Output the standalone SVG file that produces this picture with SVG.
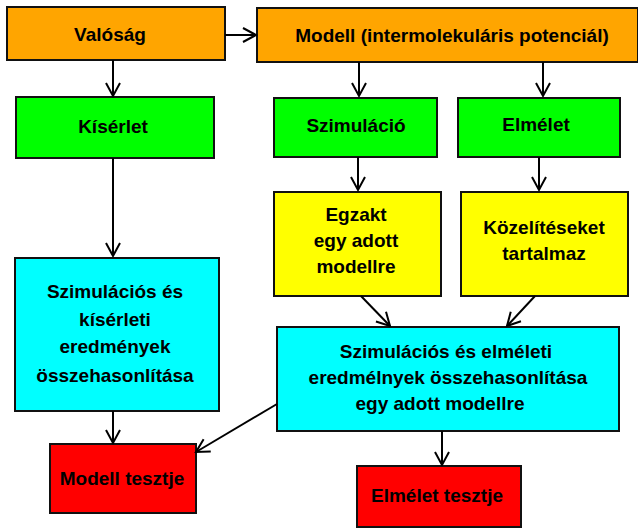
<svg xmlns="http://www.w3.org/2000/svg" width="638" height="529" viewBox="0 0 638 529">
<defs>
<marker id="arr" markerUnits="userSpaceOnUse" markerWidth="20" markerHeight="20" viewBox="-16 -10 20 20" refX="0" refY="0" orient="auto">
<path d="M-13,-7 L0,0 L-13,7" fill="none" stroke="#000" stroke-width="2"/>
</marker>
</defs>
<style>
rect{stroke:#111;stroke-width:2}
.o{fill:#FFA500}.g{fill:#00FF00}.y{fill:#FFFF00}.c{fill:#00FFFF}.r{fill:#FF0000}
text{font-family:"Liberation Sans",Arial,sans-serif;font-weight:bold;font-size:19px;fill:#000;text-anchor:middle}
.e line{stroke:#000;stroke-width:2;marker-end:url(#arr)}
</style>
<g id="valosag"><rect class="o" x="7" y="7" width="218" height="53"/><text x="110" y="41">Valóság</text></g>
<g id="modell"><rect class="o" x="257" y="8" width="381" height="54"/><text x="452" y="42">Modell (intermolekuláris potenciál)</text></g>
<g id="kiserlet"><rect class="g" x="16" y="97" width="198" height="61"/><text x="113" y="133">Kísérlet</text></g>
<g id="szimulacio"><rect class="g" x="274" y="98" width="163" height="59"/><text x="356" y="132">Szimuláció</text></g>
<g id="elmelet"><rect class="g" x="458" y="98" width="162" height="59"/><text x="536" y="131">Elmélet</text></g>
<g id="egzakt"><rect class="y" x="274" y="192" width="167" height="104"/><text x="356" y="221">Egzakt</text><text x="356" y="247">egy adott</text><text x="356" y="273">modellre</text></g>
<g id="kozelites"><rect class="y" x="461" y="192" width="167" height="104"/><text x="544" y="234">Közelítéseket</text><text x="544" y="260">tartalmaz</text></g>
<g id="osszeh1"><rect class="c" x="15" y="258" width="204" height="153"/><text x="115" y="298">Szimulációs és</text><text x="115" y="326">kísérleti</text><text x="115" y="353">eredmények</text><text x="115" y="382">összehasonlítása</text></g>
<g id="osszeh2"><rect class="c" x="277" y="327" width="342" height="104"/><text x="446" y="358">Szimulációs és elméleti</text><text x="448" y="384">eredmélnyek összehasonlítása</text><text x="440" y="410">egy adott modellre</text></g>
<g id="modelltest"><rect class="r" x="50" y="444" width="146" height="69"/><text x="122" y="485">Modell tesztje</text></g>
<g id="elmelettest"><rect class="r" x="357" y="466" width="164" height="61"/><text x="437" y="502">Elmélet tesztje</text></g>
<g id="connectors" class="e">
<line x1="225" y1="35" x2="256" y2="35"/>
<line x1="113" y1="60" x2="113" y2="96"/>
<line x1="359" y1="62" x2="359" y2="96"/>
<line x1="543" y1="62" x2="543" y2="96"/>
<line x1="113" y1="158" x2="113" y2="256"/>
<line x1="358" y1="157" x2="358" y2="190"/>
<line x1="539" y1="157" x2="539" y2="190"/>
<line x1="361" y1="296" x2="390" y2="326"/>
<line x1="535" y1="296" x2="507" y2="326"/>
<line x1="113" y1="411" x2="113" y2="443"/>
<line x1="277" y1="404" x2="196" y2="452"/>
<line x1="442" y1="431" x2="442" y2="465"/>
</g>
</svg>
